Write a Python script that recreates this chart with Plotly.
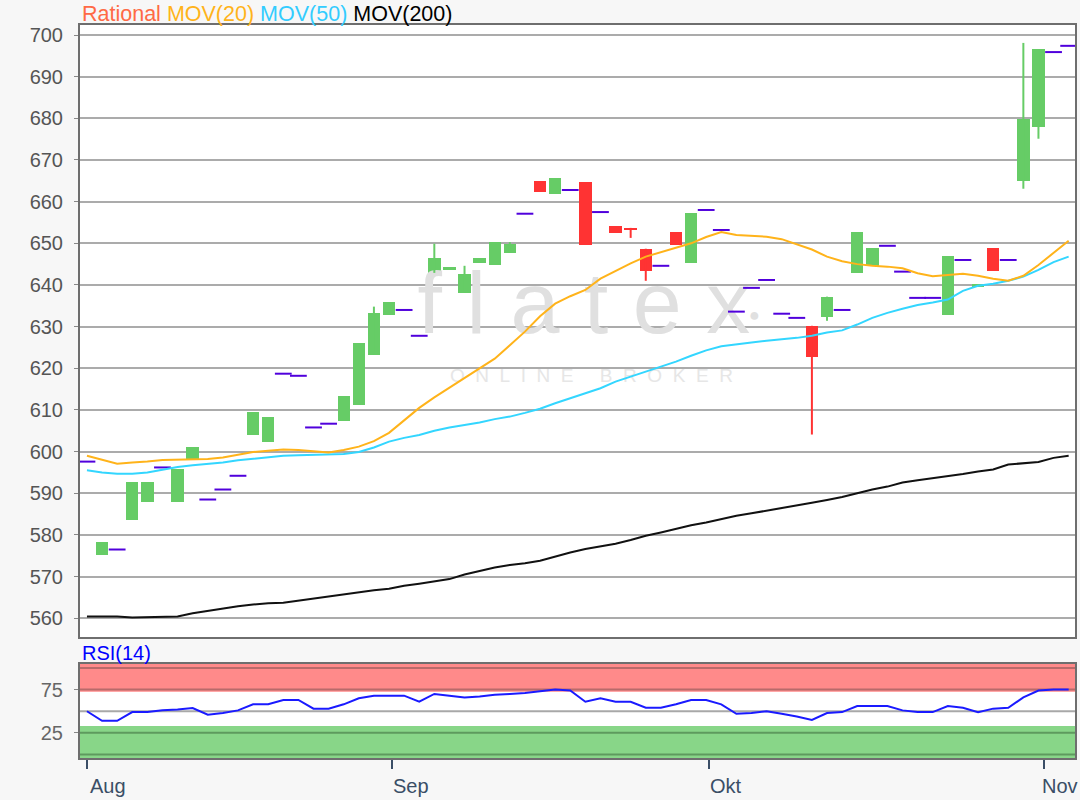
import plotly.graph_objects as go

# ---------------- data ----------------
month_labels = ["Aug", "Sep", "Okt", "Nov"]
month_pos = [0.0, 20.2, 41.2, 63.4]

opens = [597.6, 575.3, 576.5, 583.5, 587.8, 596.2, 587.8, 598.1, 588.5, 590.9,
         594.2, 604.1, 602.2, 618.7, 618.2, 605.8, 606.7, 607.4, 611.3, 623.3,
         632.8, 634.0, 627.8, 642.9, 643.5, 638.1, 645.3, 644.8, 647.7, 657.1,
         664.9, 661.9, 662.8, 664.7, 657.5, 654.2, 653.7, 648.7, 644.6, 652.7,
         645.3, 658.0, 653.2, 633.6, 639.3, 641.2, 633.1, 632.1, 630.2, 632.4,
         634.0, 642.9, 644.6, 649.4, 643.2, 636.9, 636.9, 632.8, 646.0, 639.5,
         648.9, 646.0, 665.0, 678.0, 695.9, 697.4]
highs = [597.6, 578.2, 576.5, 592.6, 592.8, 596.2, 595.9, 601.0, 588.5, 590.9,
         594.2, 609.4, 608.4, 618.7, 618.2, 605.8, 606.7, 613.4, 626.1, 634.8,
         636.0, 634.0, 627.8, 649.9, 644.3, 644.6, 646.5, 650.3, 650.3, 657.1,
         664.9, 665.7, 662.8, 664.7, 657.5, 654.2, 653.7, 648.7, 644.6, 652.7,
         657.3, 658.0, 653.2, 633.6, 639.3, 641.2, 633.1, 632.1, 630.2, 637.2,
         634.0, 652.7, 648.9, 649.4, 643.2, 636.9, 636.9, 647.0, 646.0, 640.3,
         648.9, 646.0, 698.1, 696.6, 695.9, 697.4]
lows = [597.6, 575.3, 576.5, 583.5, 587.8, 596.2, 587.8, 598.1, 588.5, 590.9,
        594.2, 604.1, 602.2, 618.7, 618.2, 605.8, 606.7, 607.4, 611.3, 623.3,
        632.8, 634.0, 627.8, 642.9, 643.5, 638.1, 645.3, 644.8, 647.7, 657.1,
        662.3, 661.9, 662.8, 649.6, 657.5, 652.5, 651.3, 641.0, 644.6, 649.6,
        645.3, 658.0, 653.2, 633.6, 639.3, 641.2, 633.1, 632.1, 604.1, 631.4,
        634.0, 642.9, 644.6, 649.4, 643.2, 636.9, 636.9, 632.8, 646.0, 639.5,
        643.4, 646.0, 663.1, 675.1, 695.9, 697.4]
closes = [597.6, 578.2, 576.5, 592.6, 592.8, 596.2, 595.9, 601.0, 588.5, 590.9,
          594.2, 609.4, 608.4, 618.7, 618.2, 605.8, 606.7, 613.4, 626.1, 633.3,
          636.0, 634.0, 627.8, 646.5, 644.3, 642.7, 646.5, 650.3, 649.9, 657.1,
          662.3, 665.7, 662.8, 649.6, 657.5, 652.5, 653.2, 643.4, 644.6, 649.6,
          657.3, 658.0, 653.2, 633.6, 639.3, 641.2, 633.1, 632.1, 622.8, 637.2,
          634.0, 652.7, 648.9, 649.4, 643.2, 636.9, 636.9, 647.0, 646.0, 640.3,
          643.4, 646.0, 679.9, 696.6, 695.9, 697.4]

mov20 = [599.0, 598.0, 597.1, 597.4, 597.6, 598.0, 598.1, 598.2, 598.2, 598.6,
         599.3, 599.9, 600.2, 600.5, 600.4, 600.1, 599.8, 600.4, 601.2, 602.5,
         604.5, 607.5, 610.5, 613.0, 615.3, 617.8, 620.0, 622.3, 625.5, 628.8,
         632.5, 635.5, 637.3, 638.8, 641.5, 643.3, 645.2, 646.8, 647.9, 649.0,
         650.0, 651.5, 652.7, 652.0, 651.8, 651.6, 651.0, 649.8, 648.5, 646.8,
         645.7, 645.0, 644.6, 644.4, 644.0, 642.8, 642.1, 642.4, 642.7, 642.2,
         641.5, 641.0, 642.2, 644.8, 647.8, 650.6]
mov50 = [595.5, 595.0, 594.7, 594.7, 595.0, 595.7, 596.3, 596.7, 597.0, 597.4,
         597.9, 598.3, 598.7, 599.0, 599.1, 599.2, 599.3, 599.4, 599.9, 601.0,
         602.4, 603.3, 604.0, 605.0, 605.8, 606.4, 607.0, 607.8, 608.4, 609.3,
         610.3, 611.6, 612.8, 614.0, 615.2, 616.8, 618.0, 619.2, 620.5, 621.6,
         623.0, 624.3, 625.3, 625.8, 626.2, 626.6, 626.9, 627.3, 627.8, 628.6,
         629.1, 630.5, 632.1, 633.3, 634.3, 635.2, 635.8, 636.5, 638.6, 639.8,
         640.3, 641.0, 642.0, 643.6, 645.5, 646.8]
mov200 = [560.4, 560.4, 560.4, 560.2, 560.3, 560.4, 560.4, 561.2, 561.8, 562.3,
          562.9, 563.3, 563.6, 563.7, 564.2, 564.8, 565.3, 565.7, 566.2, 566.7,
          567.1, 567.8, 568.3, 568.8, 569.4, 570.5, 571.3, 572.2, 572.8, 573.2,
          573.8, 574.8, 575.8, 576.6, 577.3, 577.9, 578.8, 579.8, 580.6, 581.5,
          582.3, 583.0, 583.8, 584.6, 585.2, 585.8, 586.4, 587.0, 587.7, 588.4,
          589.1, 590.0, 590.9, 591.6, 592.6, 593.1, 593.6, 594.0, 594.6, 595.2,
          595.7, 596.9, 597.2, 597.5, 598.5, 599.0]
rsi14 = [50, 39, 39, 49, 49, 51, 52, 53.6, 46, 48,
         51, 58, 58, 63, 63, 53, 53, 58, 65, 68,
         68, 68, 61, 70, 68, 66, 67, 69, 70, 71,
         73, 75, 74, 61, 65, 61, 61, 54, 54, 58,
         63, 63, 58, 47, 48, 50, 47, 44, 40, 48,
         49, 56, 56, 56, 51, 49, 49, 56, 54, 49,
         53, 54, 66, 74, 75, 75]

# ---------------- styling ----------------
GREEN = "#66cc66"
RED = "#ff3333"
DASH = "#5000dc"
C20 = "#ffb31a"
C50 = "#33d6ff"
C200 = "#111111"
FONT = "Liberation Sans, Arial, sans-serif"

n = len(closes)
idx = list(range(n))
up = [i for i in idx if closes[i] > opens[i]]
dn = [i for i in idx if closes[i] < opens[i]]
flat = [i for i in idx if closes[i] == opens[i]]

fig = go.Figure()

# watermark (drawn first, under everything)
fig.add_trace(go.Scatter(
    x=[32.9], y=[633.8], mode="text",
    text=["f\u00a0l\u00a0a\u00a0t\u00a0e\u00a0x"],
    textfont=dict(family=FONT, size=88, color="#e0e0e0"),
    hoverinfo="skip", showlegend=False, xaxis="x", yaxis="y"))
fig.add_trace(go.Scatter(
    x=[44.2], y=[632.5], mode="text", text=["\u25cf"],
    textfont=dict(family=FONT, size=18, color="#e0e0e0"),
    hoverinfo="skip", showlegend=False, xaxis="x", yaxis="y"))
wm2 = "\u00a0\u00a0".join("ONLINE") + "\u00a0" * 5 + "\u00a0\u00a0".join("BROKER")
fig.add_trace(go.Scatter(
    x=[33.4], y=[617.8], mode="text", text=[wm2],
    textfont=dict(family=FONT, size=19, color="#e6e6e6"),
    hoverinfo="skip", showlegend=False, xaxis="x", yaxis="y"))

# candle bodies
fig.add_trace(go.Bar(
    x=up, y=[closes[i] - opens[i] for i in up], base=[opens[i] for i in up],
    width=0.82, marker=dict(color=GREEN, line=dict(width=0)),
    showlegend=False, xaxis="x", yaxis="y"))
fig.add_trace(go.Bar(
    x=dn, y=[opens[i] - closes[i] for i in dn], base=[closes[i] for i in dn],
    width=0.82, marker=dict(color=RED, line=dict(width=0)),
    showlegend=False, xaxis="x", yaxis="y"))


def wicks(sel):
    xs, ys = [], []
    for i in sel:
        if highs[i] > max(opens[i], closes[i]) or lows[i] < min(opens[i], closes[i]):
            xs += [i, i, None]
            ys += [lows[i], highs[i], None]
    return xs, ys


wx, wy = wicks(up)
fig.add_trace(go.Scatter(x=wx, y=wy, mode="lines", line=dict(color=GREEN, width=2),
                         showlegend=False, hoverinfo="skip", xaxis="x", yaxis="y"))
wx, wy = wicks(dn)
fig.add_trace(go.Scatter(x=wx, y=wy, mode="lines", line=dict(color=RED, width=2),
                         showlegend=False, hoverinfo="skip", xaxis="x", yaxis="y"))

# single-price days
fig.add_trace(go.Scatter(
    x=flat, y=[closes[i] for i in flat], mode="markers",
    marker=dict(symbol="line-ew", size=12, line=dict(color=DASH, width=2)),
    showlegend=False, xaxis="x", yaxis="y"))

# moving averages
for vals, col in ((mov200, C200), (mov50, C50), (mov20, C20)):
    fig.add_trace(go.Scatter(x=idx, y=vals, mode="lines",
                             line=dict(color=col, width=2),
                             showlegend=False, xaxis="x", yaxis="y"))

# RSI
fig.add_trace(go.Scatter(x=idx, y=rsi14, mode="lines",
                         line=dict(color="#1a1aff", width=2),
                         showlegend=False, xaxis="x2", yaxis="y2"))

H_PLOT = 733.0
main_bottom = (758 - 637) / H_PLOT
rsi_top = (758 - 664) / H_PLOT
XR = [-0.46, 65.42]
RSI_R = [-4.05, 104.6]

shapes = []
shapes.append(dict(type="rect", xref="x2 domain", yref="y2", x0=0, x1=1, y0=72.6, y1=RSI_R[1],
                   fillcolor="#ff8a8a", line=dict(width=0), layer="below"))
shapes.append(dict(type="rect", xref="x2 domain", yref="y2", x0=0, x1=1, y0=RSI_R[0], y1=32.9,
                   fillcolor="#88d688", line=dict(width=0), layer="below"))
for v, c in ((0, "#5e9a5e"), (25, "#5e9a5e"), (50, "#a8a8a8"), (75, "#b86a6a"), (100, "#b86a6a")):
    shapes.append(dict(type="line", xref="x2 domain", yref="y2", x0=0, x1=1, y0=v, y1=v,
                       line=dict(color=c, width=2), layer="below"))

annotations = [
    dict(xref="paper", yref="paper", x=0, y=1, xanchor="left", yanchor="middle",
         xshift=0, yshift=11, showarrow=False,
         font=dict(family=FONT, size=21.5),
         text=('<span style="color:#ff6a45">Rational</span> '
               '<span style="color:#ffb31a">MOV(20)</span> '
               '<span style="color:#33ccff">MOV(50)</span> '
               '<span style="color:#000000">MOV(200)</span>')),
    dict(xref="paper", yref="paper", x=0, y=rsi_top, xanchor="left", yanchor="middle",
         xshift=0, yshift=11, showarrow=False,
         font=dict(family=FONT, size=20, color="#0000ff"), text="RSI(14)"),
]
shifts = [1, -1, -1, -4]
for lab, pos, sh in zip(month_labels, month_pos, shifts):
    annotations.append(dict(xref="x2", yref="paper", x=pos, y=0, xanchor="left",
                            yanchor="middle", xshift=sh, yshift=-28, showarrow=False,
                            font=dict(family=FONT, size=20, color="#3a4e66"), text=lab))

axis_common = dict(showline=True, mirror=True, linecolor="#6e6e6e", linewidth=2,
                   zeroline=False)

fig.update_layout(
    width=1080, height=800,
    margin=dict(l=80, r=3, t=25, b=42),
    paper_bgcolor="#f7f7f7", plot_bgcolor="#ffffff",
    barmode="overlay", bargap=0, showlegend=False,
    font=dict(family=FONT),
    xaxis=dict(domain=[0, 1], anchor="y", range=XR, showticklabels=False, ticks="",
               showgrid=False, **axis_common),
    yaxis=dict(domain=[main_bottom, 1], anchor="x", range=[555.5, 702.4],
               tickmode="linear", tick0=560, dtick=10, ticks="outside", ticklen=4,
               tickcolor="#888888", tickwidth=1, ticklabelstandoff=7,
               showgrid=True, gridcolor="#ababab", gridwidth=2,
               tickfont=dict(family=FONT, size=20, color="#555555"), **axis_common),
    xaxis2=dict(domain=[0, 1], anchor="y2", matches="x", range=XR,
                tickmode="array", tickvals=month_pos, ticktext=[""] * len(month_pos),
                ticks="outside", ticklen=9, tickwidth=1.5, tickcolor="#3a4e66",
                showgrid=False, **axis_common),
    yaxis2=dict(domain=[0, rsi_top], anchor="x2", range=RSI_R,
                tickmode="array", tickvals=[25, 75], ticks="outside", ticklen=4,
                tickcolor="#888888", ticklabelstandoff=7, showgrid=False,
                tickfont=dict(family=FONT, size=20, color="#666666"), **axis_common),
    shapes=shapes, annotations=annotations,
)

fig.write_html("out.html", config={"displayModeBar": False},
               post_script="document.body.style.margin='0';document.body.style.background='#f7f7f7';")
